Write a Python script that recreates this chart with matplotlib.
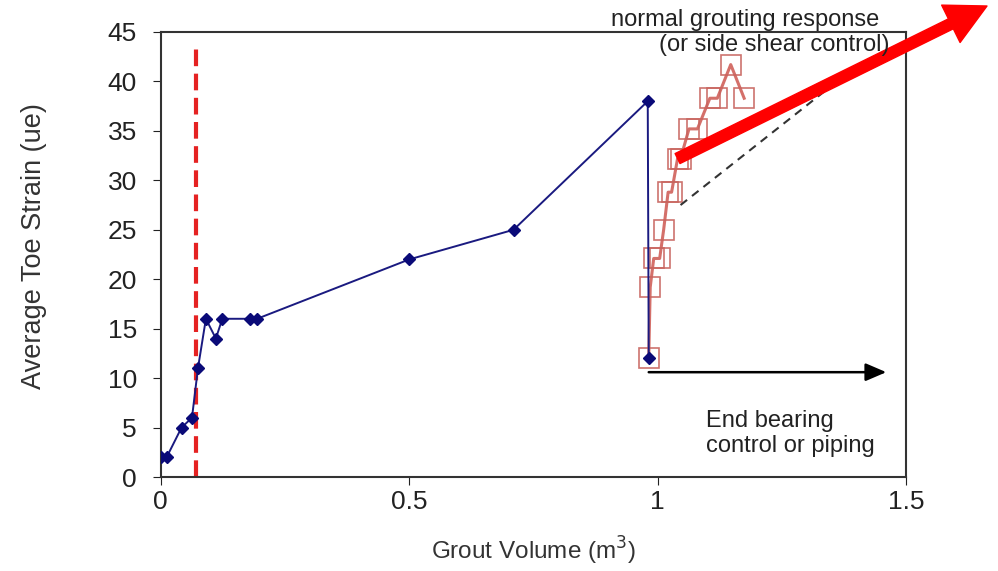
import matplotlib.pyplot as plt

plt.rcParams['font.family'] = ['Liberation Sans', 'DejaVu Sans']

## ----- DATA ------ ##

# blue diamonds: first grouting stage
blue_x = [0.0, 0.012, 0.042, 0.063, 0.075, 0.091, 0.111, 0.124, 0.18, 0.194, 0.5, 0.71, 0.98, 0.982]
blue_y = [2, 2, 5, 6, 11, 16, 14, 16, 16, 16, 22, 25, 38, 12]

# red hollow squares: second stage
red_x = [0.982, 0.985, 0.992, 1.004, 1.012, 1.021, 1.028, 1.04, 1.046, 1.063, 1.08,
         1.105, 1.12, 1.147, 1.174]
red_y = [12, 19.2, 22.1, 22.1, 25, 28.8, 28.8, 32.2, 32.2, 35.2, 35.2, 38.3, 38.3, 41.7, 38.3]

marker_volume = 0.071
x_ticks = [0, 0.5, 1, 1.5]
x_tick_labels = ['0', '0.5', '1', '1.5']
y_ticks = list(range(0, 50, 5))

## ----- PLOT ------ ##

fig = plt.figure(figsize=(9.98, 5.71), dpi=100)
ax = fig.add_axes([0.161, 0.1646, 0.747, 0.7794])

ax.plot([marker_volume, marker_volume], [0, 44], color='#e52222', lw=3,
        dashes=(4, 1.8), zorder=1)

ax.plot(red_x, red_y, color='#d0605a', lw=2.2, marker='s', markersize=14,
        markerfacecolor='none', markeredgecolor='#c8645e', markeredgewidth=1.2,
        alpha=0.9, zorder=2)
ax.plot(blue_x, blue_y, color='#1a1a80', lw=1.4, marker='D', markersize=6.5,
        markerfacecolor='#0a0a78', markeredgecolor='#0a0a78', zorder=3)

# dashed guide line
ax.plot([1.046, 1.376], [27.5, 40.6], color='#333333', lw=1.5, dashes=(4, 3), zorder=2)

# end bearing arrow
ax.annotate('', xy=(1.46, 10.6), xytext=(0.982, 10.6),
            arrowprops=dict(arrowstyle='-|>,head_length=0.7,head_width=0.3', color='black',
                            lw=1.8, mutation_scale=18, shrinkA=0, shrinkB=0))

# big red arrow leaving the plot
ax.annotate('', xy=(987 / 998, 1 - 6 / 571), xycoords='figure fraction',
            xytext=(1.04, 32.2), textcoords='data',
            arrowprops=dict(arrowstyle='simple,head_width=3.0,head_length=2.9,tail_width=0.8',
                            color='#ff0000', mutation_scale=10, shrinkA=0, shrinkB=0),
            annotation_clip=False)

ax.text(1.176, 46.2, 'normal grouting response', ha='center', va='center',
        fontsize=17, color='#222222', clip_on=False)
ax.text(1.467, 43.7, '(or side shear control)', ha='right', va='center',
        fontsize=17, color='#222222', clip_on=False)
ax.text(1.097, 4.4, 'End bearing\ncontrol or piping', ha='left', va='center',
        fontsize=17, color='#222222', linespacing=1.15)

ax.set_xlim(0, 1.5)
ax.set_ylim(0, 45)
ax.set_xticks(x_ticks)
ax.set_xticklabels(x_tick_labels)
ax.set_yticks(y_ticks)
ax.tick_params(labelsize=19, length=6, direction='out', colors='#222222')
ax.tick_params(axis='y', pad=11)
ax.tick_params(axis='x', pad=3)
for s in ax.spines.values():
    s.set_color('#333333')
    s.set_linewidth(1.5)

ax.set_xlabel('Grout Volume (m$^3$)', fontsize=17.5, color='#333333')
ax.set_ylabel('Average Toe Strain (ue)', fontsize=19.5, color='#333333')
ax.xaxis.set_label_coords(0.5, -0.13)
ax.yaxis.set_label_coords(-0.152, 0.52)

fig.savefig('out.png', dpi=100)
